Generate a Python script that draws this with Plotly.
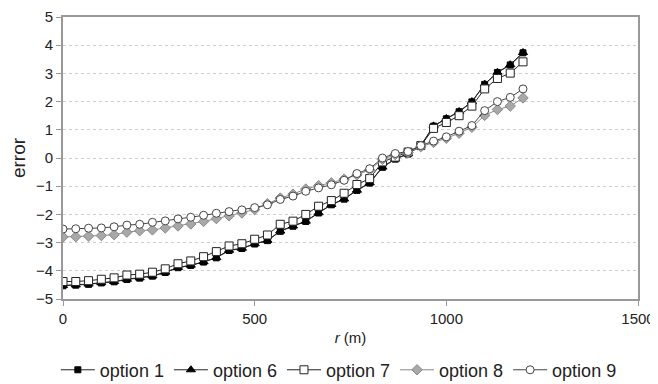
import plotly.graph_objects as go

r_m = [0, 33.3, 66.7, 100, 133.3, 166.7, 200, 233.3, 266.7, 300, 333.3, 366.7, 400,
       433.3, 466.7, 500, 533.3, 566.7, 600, 633.3, 666.7, 700, 733.3, 766.7, 800,
       833.3, 866.7, 900, 933.3, 966.7, 1000, 1033.3, 1066.7, 1100, 1133.3, 1166.7, 1200]

option1 = [-4.53, -4.51, -4.48, -4.43, -4.39, -4.31, -4.26, -4.19, -4.06, -3.89, -3.81, -3.69, -3.54,
           -3.28, -3.21, -3.05, -2.93, -2.60, -2.42, -2.25, -1.95, -1.66, -1.46, -1.15, -0.89,
           -0.33, -0.04, 0.14, 0.43, 1.13, 1.39, 1.64, 1.99, 2.61, 3.03, 3.30, 3.73]
option6 = [-4.52, -4.50, -4.47, -4.42, -4.38, -4.30, -4.25, -4.18, -4.05, -3.88, -3.80, -3.68, -3.53,
           -3.27, -3.20, -3.04, -2.92, -2.59, -2.41, -2.24, -1.94, -1.65, -1.45, -1.14, -0.88,
           -0.32, -0.03, 0.15, 0.44, 1.14, 1.40, 1.65, 2.00, 2.62, 3.04, 3.31, 3.74]
option7 = [-4.38, -4.38, -4.35, -4.30, -4.25, -4.15, -4.12, -4.05, -3.93, -3.75, -3.65, -3.50, -3.32,
           -3.12, -3.04, -2.88, -2.73, -2.35, -2.24, -2.00, -1.71, -1.51, -1.25, -0.94, -0.73,
           -0.14, 0.03, 0.21, 0.44, 1.05, 1.26, 1.50, 1.84, 2.45, 2.82, 3.01, 3.41]
option8 = [-2.80, -2.79, -2.77, -2.75, -2.72, -2.63, -2.58, -2.55, -2.48, -2.41, -2.34, -2.25, -2.15,
           -2.05, -1.95, -1.83, -1.62, -1.42, -1.28, -1.10, -0.98, -0.88, -0.75, -0.60, -0.42,
           -0.05, 0.12, 0.20, 0.40, 0.55, 0.70, 0.88, 1.09, 1.51, 1.72, 1.84, 2.13]
option9 = [-2.52, -2.51, -2.49, -2.48, -2.44, -2.38, -2.35, -2.28, -2.23, -2.16, -2.10, -2.03, -1.96,
           -1.90, -1.84, -1.76, -1.66, -1.47, -1.35, -1.18, -1.06, -0.95, -0.79, -0.55, -0.38,
           0.00, 0.16, 0.23, 0.44, 0.60, 0.75, 0.95, 1.15, 1.68, 2.00, 2.15, 2.45]

x_ticks = [0, 500, 1000, 1500]
y_ticks = [-5, -4, -3, -2, -1, 0, 1, 2, 3, 4, 5]

series = [
    ("option 1", option1, dict(symbol="square", color="black", size=6, line=dict(color="black", width=1)), "#222"),
    ("option 6", option6, dict(symbol="triangle-up", color="black", size=8, line=dict(color="black", width=1)), "#222"),
    ("option 7", option7, dict(symbol="square", color="white", size=8, line=dict(color="#222", width=1)), "#222"),
    ("option 8", option8, dict(symbol="diamond", color="#a8a8a8", size=8, line=dict(color="#888888", width=1)), "#888"),
    ("option 9", option9, dict(symbol="circle", color="white", size=8, line=dict(color="#444", width=1)), "#444"),
]

fig = go.Figure()
for name, vals, mk, lc in series:
    fig.add_trace(go.Scatter(x=r_m, y=vals, name=name, mode="lines+markers",
                             line=dict(color=lc, width=1), marker=mk))

fig.update_layout(
    width=650, height=376,
    margin=dict(l=55, r=20, t=9, b=85, autoexpand=False),
    plot_bgcolor="white", paper_bgcolor="white",
    font=dict(family="Liberation Sans, Arial, sans-serif", size=15, color="#222"),
    showlegend=True,
    legend=dict(orientation="h", x=0.509, xanchor="center", xref="container",
                y=0.037, yanchor="middle", yref="container",
                font=dict(size=18, color="#222"), itemwidth=34, tracegroupgap=0),
    xaxis=dict(range=[0, 1500], tickvals=x_ticks, ticks="outside", ticklen=5,
               tickcolor="#999", showline=True, linecolor="#999", linewidth=2,
               mirror=True, showgrid=False, zeroline=False, automargin=False,
               ticklabeloverflow="allow",
               title=dict(text="<i>r</i> (m)", font=dict(size=15), standoff=6)),
    yaxis=dict(range=[-5, 5], tickvals=y_ticks, ticks="outside", ticklen=5,
               tickcolor="#999", showline=True, linecolor="#999", linewidth=2,
               mirror=True, showgrid=True, gridcolor="#cccccc", griddash="dot",
               gridwidth=1, zeroline=False, automargin=False,
               ticklabeloverflow="allow",
               title=dict(text="error", font=dict(size=19), standoff=14)),
)

fig.write_html("out.html")
